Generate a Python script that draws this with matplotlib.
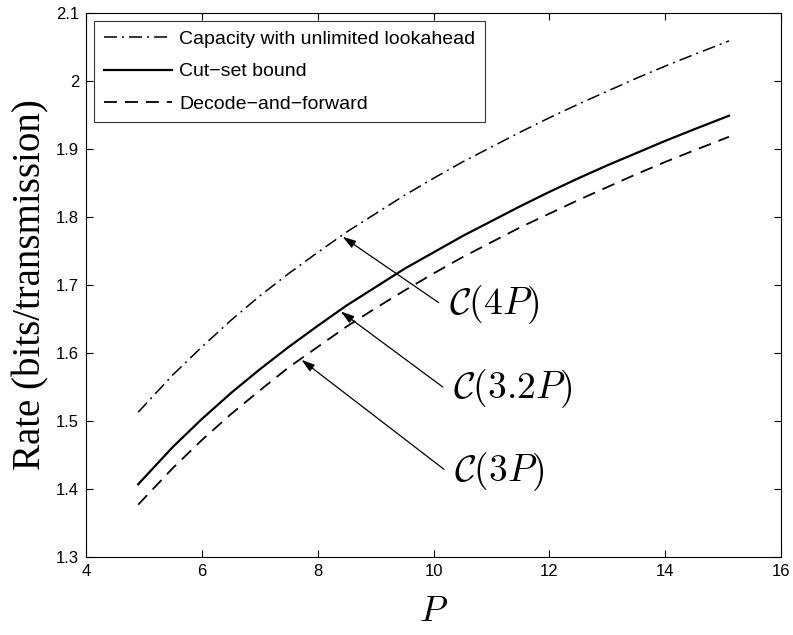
import matplotlib
matplotlib.use("Agg")
import matplotlib.pyplot as plt

# power values
power = [4.9, 5.5, 6, 6.5, 7, 7.5, 8, 8.5, 9, 9.5, 10, 10.5, 11, 11.5,
         12, 12.5, 13, 13.5, 14, 14.5, 15.1]

# capacity with unlimited lookahead, C(4P)
lookahead = [1.513, 1.568, 1.609, 1.648, 1.684, 1.717, 1.748, 1.778, 1.805,
             1.832, 1.857, 1.881, 1.903, 1.925, 1.946, 1.966, 1.985, 2.004,
             2.022, 2.039, 2.059]

# cut-set bound, C(3.2P)
cutset = [1.407, 1.462, 1.503, 1.541, 1.576, 1.609, 1.640, 1.670, 1.697,
          1.724, 1.748, 1.772, 1.794, 1.816, 1.837, 1.857, 1.876, 1.894,
          1.912, 1.929, 1.949]

# decode-and-forward, C(3P)
dec_fwd = [1.377, 1.431, 1.472, 1.510, 1.545, 1.579, 1.609, 1.639, 1.666,
           1.692, 1.717, 1.741, 1.763, 1.785, 1.805, 1.825, 1.844, 1.863,
           1.881, 1.898, 1.918]

labels = ["Capacity with unlimited lookahead", "Cut\u2212set bound",
          "Decode\u2212and\u2212forward"]

# annotation text, arrow tip and tail (data coordinates)
notes = [(r"$\mathcal{C}(4P)$", (8.43, 1.771), (10.09, 1.674)),
         (r"$\mathcal{C}(3.2P)$", (8.40, 1.661), (10.16, 1.550)),
         (r"$\mathcal{C}(3P)$", (7.72, 1.590), (10.18, 1.429))]


def main():
    plt.rcParams['font.family'] = ['Liberation Sans', 'DejaVu Sans']
    plt.rcParams['mathtext.fontset'] = 'cm'

    fig = plt.figure(figsize=(7.93, 6.35), dpi=100)
    ax = fig.add_axes([0.1085, 0.1228, 0.8765, 0.8567])

    ax.plot(power, lookahead, color='black', lw=1.1,
            ls=(0, (8.5, 3.3, 1.3, 3.3)), label=labels[0])
    ax.plot(power, cutset, color='black', lw=1.6, ls='-', label=labels[1])
    ax.plot(power, dec_fwd, color='black', lw=1.3, ls=(0, (7.2, 4.4)),
            label=labels[2])

    for text, tip, tail in notes:
        ax.annotate("", xy=tip, xytext=tail,
                    arrowprops=dict(arrowstyle='-|>,head_length=0.8,head_width=0.25',
                                    color='black', lw=0.9, shrinkA=0, shrinkB=0))
        ax.text(tail[0] + 0.18, tail[1] - 0.003, text, fontsize=27,
                ha='left', va='center')

    ax.set_xlim(4, 16)
    ax.set_ylim(1.3, 2.1)
    ax.set_xticks(range(4, 17, 2))
    ax.set_yticks([1.3, 1.4, 1.5, 1.6, 1.7, 1.8, 1.9, 2.0, 2.1])
    ax.set_yticklabels(["1.3", "1.4", "1.5", "1.6", "1.7", "1.8", "1.9", "2", "2.1"])
    ax.tick_params(direction='in', top=True, right=True, labelsize=12,
                   length=5, width=0.8, pad=5)
    for s in ax.spines.values():
        s.set_linewidth(0.8)

    ax.set_xlabel(r"$P$", fontsize=26, labelpad=11)
    ax.set_ylabel("Rate (bits/transmission)", fontsize=28,
                  family='Liberation Serif', labelpad=5)

    leg = ax.legend(loc='upper left', fontsize=14, frameon=True, fancybox=False,
                    edgecolor='black', handlelength=3.5, handletextpad=0.4,
                    borderaxespad=0.4, labelspacing=0.75, borderpad=0.5)
    leg.get_frame().set_linewidth(0.8)

    fig.savefig("out.png", dpi=100)


if __name__ == "__main__":
    main()
